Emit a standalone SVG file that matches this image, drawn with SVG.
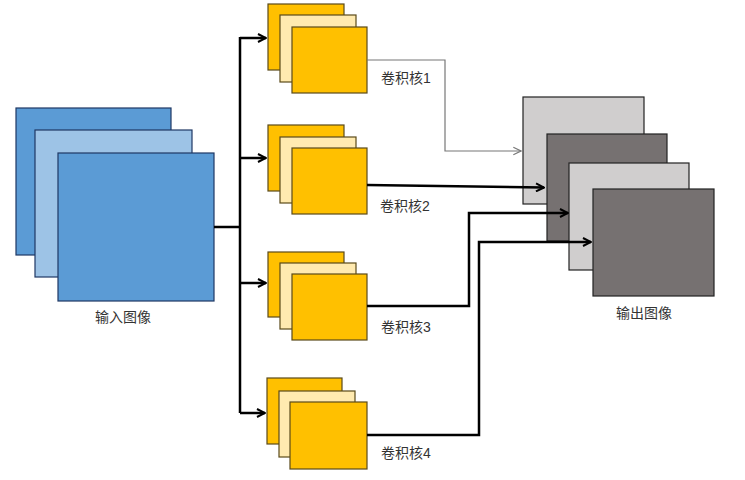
<svg xmlns="http://www.w3.org/2000/svg" width="745" height="480" viewBox="0 0 745 480">
<style>
.lbl{font-family:"Liberation Sans","Noto Sans CJK SC",sans-serif;font-size:14px;fill:#333}
.bd{fill:#5b9bd5;stroke:#1f3864;stroke-width:1.2}
.bl{fill:#9dc3e6;stroke:#1f3864;stroke-width:1.2}
.ko{fill:#ffc000;stroke:#5a4a1a;stroke-width:1.2}
.kl{fill:#ffeab0;stroke:#5a4a1a;stroke-width:1.2}
.gl{fill:#d0cece;stroke:#222;stroke-width:1.2}
.gd{fill:#767171;stroke:#222;stroke-width:1.2}
.c{fill:none;stroke:#000;stroke-width:2.5}
.t{fill:none;stroke:#777;stroke-width:1.2}
</style>
<defs>
<marker id="ah" viewBox="0 0 10 10" refX="9" refY="5" markerWidth="4" markerHeight="4" orient="auto" markerUnits="strokeWidth">
<path d="M1,1 L9,5 L1,9" fill="none" stroke="#000" stroke-width="2"/>
</marker>
<marker id="ahg" viewBox="0 0 10 10" refX="9" refY="5" markerWidth="8" markerHeight="8" orient="auto" markerUnits="strokeWidth">
<path d="M1,1 L9,5 L1,9" fill="none" stroke="#777" stroke-width="1.2"/>
</marker>
</defs>
<rect width="745" height="480" fill="#fff"/>
<g id="input">
<rect class="bd" x="16" y="108" width="155" height="147"/>
<rect class="bl" x="35" y="130" width="157" height="147"/>
<rect class="bd" x="58" y="153" width="156" height="148"/>
<text class="lbl" x="123" y="322" text-anchor="middle">输入图像</text>
</g>
<g id="kernel1">
<rect class="ko" x="268" y="4" width="76" height="66"/>
<rect class="kl" x="280" y="15" width="76" height="67"/>
<rect class="ko" x="292" y="27" width="75" height="66"/>
<text class="lbl" x="381" y="83">卷积核1</text>
</g>
<g id="kernel2">
<rect class="ko" x="268" y="125" width="76" height="66"/>
<rect class="kl" x="280" y="137" width="76" height="66"/>
<rect class="ko" x="292" y="148" width="75" height="66"/>
<text class="lbl" x="380" y="211">卷积核2</text>
</g>
<g id="kernel3">
<rect class="ko" x="268" y="252" width="76" height="65"/>
<rect class="kl" x="280" y="263" width="76" height="66"/>
<rect class="ko" x="292" y="274" width="75" height="66"/>
<text class="lbl" x="381" y="332">卷积核3</text>
</g>
<g id="kernel4">
<rect class="ko" x="267" y="378" width="75" height="66"/>
<rect class="kl" x="279" y="391" width="76" height="66"/>
<rect class="ko" x="290" y="402" width="77" height="67"/>
<text class="lbl" x="381" y="458">卷积核4</text>
</g>
<g id="output">
<rect class="gl" x="523" y="97" width="121" height="107"/>
<rect class="gd" x="547" y="134" width="120" height="107"/>
<rect class="gl" x="569" y="163" width="120" height="107"/>
<rect class="gd" x="593" y="189" width="121" height="107"/>
<text class="lbl" x="644" y="318" text-anchor="middle">输出图像</text>
</g>
<g id="connectors">
<path class="c" d="M214,227 H240"/>
<path class="c" d="M240,37 V413"/>
<path class="c" d="M240,38 H266" marker-end="url(#ah)"/>
<path class="c" d="M240,158 H266" marker-end="url(#ah)"/>
<path class="c" d="M240,283 H266" marker-end="url(#ah)"/>
<path class="c" d="M240,413 H265" marker-end="url(#ah)"/>
<path class="t" d="M367,60 H445 V151 H521" marker-end="url(#ahg)"/>
<path class="c" d="M367,185 L544,187.5" marker-end="url(#ah)"/>
<path class="c" d="M367,306 H469 V213 H568" marker-end="url(#ah)"/>
<path class="c" d="M367,435 H479 V242 H591" marker-end="url(#ah)"/>
</g>
</svg>
